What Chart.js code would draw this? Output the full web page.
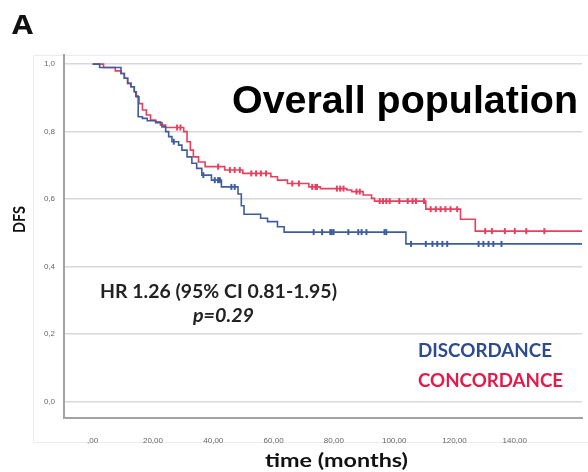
<!DOCTYPE html>
<html>
<head>
<meta charset="utf-8">
<script src="https://cdn.jsdelivr.net/npm/chart.js@4.4.1/dist/chart.umd.min.js"></script>
<style>
  html, body { margin: 0; padding: 0; background: #fff; }
  #wrap { position: relative; width: 588px; height: 472px; }
</style>
</head>
<body>
<div id="wrap"><canvas id="km-chart"></canvas></div>
<script>
// DFS Kaplan-Meier steps: event time (months) and survival right after it
const discordanceTimes = [0, 2.3, 9.4, 10.5, 11.6, 12.7, 13.8, 14.3, 15.1, 16.5, 18.1, 20.9, 23.0, 24.2, 25.2, 26.3, 28.5, 29.6, 31.3, 32.9, 34.5, 36.2, 39.4, 42.7, 48.2, 49.3, 50.2, 55.7, 58.0, 61.3, 63.5, 103.9, 165];
const discordanceSurv = [1.0, 0.99, 0.972, 0.958, 0.943, 0.933, 0.918, 0.905, 0.844, 0.839, 0.832, 0.826, 0.814, 0.80, 0.785, 0.77, 0.76, 0.745, 0.725, 0.706, 0.691, 0.671, 0.656, 0.636, 0.615, 0.58, 0.555, 0.543, 0.533, 0.518, 0.502, 0.467, 0.467];
const discordanceCensored = [26.9, 36.7, 40.5, 41.6, 42.2, 46.0, 47.1, 73.3, 76.1, 78.8, 79.3, 79.9, 84.8, 88.1, 89.2, 90.8, 96.8, 97.4, 105.6, 110.5, 112.7, 114.3, 116.0, 117.6, 128.0, 129.6, 131.3, 132.9, 135.6];

const concordanceTimes = [0, 3.6, 7.5, 9.4, 10.5, 11.6, 12.7, 13.8, 14.5, 15.4, 16.5, 17.8, 19.2, 20.9, 22.5, 24.2, 30.2, 31.3, 32.4, 33.4, 35.1, 37.3, 43.8, 49.8, 59.1, 61.3, 64.6, 71.7, 75.5, 84.3, 85.9, 89.7, 92.5, 93.5, 110.5, 122.0, 126.9, 165];
const concordanceSurv = [1.0, 0.99, 0.98, 0.972, 0.958, 0.943, 0.933, 0.918, 0.903, 0.883, 0.864, 0.849, 0.834, 0.829, 0.819, 0.812, 0.80, 0.77, 0.745, 0.725, 0.71, 0.696, 0.686, 0.676, 0.666, 0.656, 0.646, 0.636, 0.631, 0.627, 0.622, 0.612, 0.602, 0.594, 0.570, 0.540, 0.505, 0.505];
const concordanceCensored = [28.0, 29.1, 41.6, 45.5, 47.1, 48.8, 52.6, 54.2, 55.8, 57.5, 66.2, 68.4, 72.8, 73.9, 74.4, 81.0, 82.1, 83.2, 87.5, 88.6, 95.2, 96.3, 97.4, 98.5, 101.7, 104.5, 106.1, 107.2, 109.9, 112.1, 113.8, 115.4, 117.0, 118.7, 120.9, 130.2, 132.4, 136.7, 140.0, 143.8, 149.8];

const xTicks = [0, 20, 40, 60, 80, 100, 120, 140];
const yTicks = [0, 0.2, 0.4, 0.6, 0.8, 1.0];

const BLUE = '#3f5d9e';
const RED = '#e6405f';

// survival value of a step curve at time t
function survivalAt(times, surv, t) {
  let s = surv[0];
  for (let i = 0; i < times.length; i++) {
    if (times[i] <= t) s = surv[i];
  }
  return s;
}

const toPoints = (times, surv) => times.map((t, i) => ({ x: t, y: surv[i] }));
const censorPoints = (cens, times, surv) => cens.map(t => ({ x: t, y: survivalAt(times, surv, t) }));

// text squeezed/stretched to a given width
function fitText(ctx, text, x, y, width, font, color) {
  ctx.save();
  ctx.font = font;
  ctx.fillStyle = color;
  ctx.textBaseline = 'alphabetic';
  const w = ctx.measureText(text).width;
  ctx.translate(x, y);
  ctx.scale(width / w, 1);
  ctx.fillText(text, 0, 0);
  ctx.restore();
}

const decorations = {
  id: 'decorations',
  beforeDraw(chart) {
    const ctx = chart.ctx;
    ctx.save();
    ctx.strokeStyle = '#ececec';
    ctx.lineWidth = 1;
    ctx.strokeRect(33.5, 55.5, 600, 387);
    ctx.restore();
  },
  afterDraw(chart) {
    const ctx = chart.ctx;
    fitText(ctx, 'A', 12, 34, 21, 'bold 26px "Open Sans"', '#111');
    fitText(ctx, 'Overall population', 232, 113, 346, 'bold 38px "Liberation Sans"', '#000');
    fitText(ctx, 'HR 1.26 (95% CI 0.81-1.95)', 100, 298, 237, 'bold 18px Lato', '#222');
    fitText(ctx, 'p=0.29', 193, 322, 61, 'italic bold 18px Lato', '#222');
    fitText(ctx, 'DISCORDANCE', 418, 357, 134, 'bold 18px Lato', '#2d4b8e');
    fitText(ctx, 'CONCORDANCE', 418, 387, 145, 'bold 18px Lato', '#e31b4b');
    fitText(ctx, 'time (months)', 265, 467, 143, 'bold 19px Lato', '#111');

    // rotated y-axis title
    ctx.save();
    ctx.translate(25, 233);
    ctx.rotate(-Math.PI / 2);
    fitText(ctx, 'DFS', 0, 0, 27, 'bold 17px Lato', '#111');
    ctx.restore();
  }
};

new Chart(document.getElementById('km-chart'), {
  type: 'line',
  data: {
    datasets: [
      {
        label: 'DISCORDANCE',
        data: toPoints(discordanceTimes, discordanceSurv),
        borderColor: BLUE,
        borderWidth: 1.6,
        stepped: 'before',
        pointRadius: 0,
        fill: false
      },
      {
        label: 'CONCORDANCE',
        data: toPoints(concordanceTimes, concordanceSurv),
        borderColor: RED,
        borderWidth: 1.6,
        stepped: 'before',
        pointRadius: 0,
        fill: false
      },
      {
        label: 'DISCORDANCE censored',
        data: censorPoints(discordanceCensored, discordanceTimes, discordanceSurv),
        showLine: false,
        pointStyle: 'line',
        rotation: 90,
        pointRadius: 3,
        borderColor: BLUE,
        pointBorderWidth: 2
      },
      {
        label: 'CONCORDANCE censored',
        data: censorPoints(concordanceCensored, concordanceTimes, concordanceSurv),
        showLine: false,
        pointStyle: 'line',
        rotation: 90,
        pointRadius: 3,
        borderColor: RED,
        pointBorderWidth: 2
      }
    ]
  },
  options: {
    responsive: true,
    maintainAspectRatio: false,
    animation: false,
    layout: { padding: { top: 55, left: 0, right: 0, bottom: 0 } },
    plugins: {
      legend: { display: false },
      tooltip: { enabled: false }
    },
    scales: {
      x: {
        type: 'linear',
        min: -9.51,
        max: 162.3,
        afterBuildTicks: (scale) => { scale.ticks = xTicks.map(v => ({ value: v })); },
        afterFit: (scale) => { scale.height = 54; },
        grid: { display: false },
        border: { display: true, color: '#a3a3a3', width: 2 },
        ticks: {
          padding: 10,
          maxRotation: 0,
          autoSkip: false,
          color: '#666',
          font: { family: "'Liberation Sans'", size: 8 },
          callback: (v) => (v === 0 ? ',00' : v + ',00')
        }
      },
      y: {
        type: 'linear',
        min: -0.049,
        max: 1.027,
        afterBuildTicks: (scale) => { scale.ticks = yTicks.map(v => ({ value: v })); },
        afterFit: (scale) => { scale.width = 64; },
        grid: { color: '#d8d8d8', lineWidth: 1.5, drawTicks: false },
        border: { display: true, color: '#a3a3a3', width: 2 },
        ticks: {
          padding: 9,
          color: '#666',
          font: { family: "'Liberation Sans'", size: 8 },
          callback: (v) => v.toFixed(1).replace('.', ',')
        }
      }
    }
  },
  plugins: [decorations]
});
</script>
</body>
</html>
